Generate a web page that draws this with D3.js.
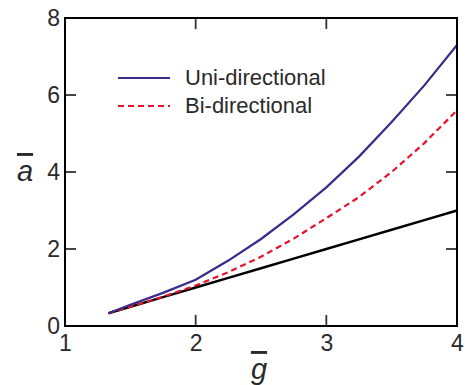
<!DOCTYPE html>
<html>
<head>
<meta charset="utf-8">
<script src="https://cdn.jsdelivr.net/npm/d3@7"></script>
<style>
  body { margin: 0; background: #fff; }
  text { font-family: "Liberation Sans", Arial, sans-serif; }
</style>
</head>
<body>
<div id="chart"></div>
<script>
// g values where the curves were sampled
const gValues = [1.333, 1.5, 1.75, 2, 2.25, 2.5, 2.75, 3, 3.25, 3.5, 3.75, 4];
const uniValues = [0.33, 0.55, 0.86, 1.2, 1.7, 2.26, 2.9, 3.6, 4.4, 5.3, 6.25, 7.3];
const biValues = [0.33, 0.5, 0.76, 1.05, 1.4, 1.8, 2.27, 2.8, 3.35, 4.0, 4.75, 5.6];
const baseValues = [0.333, 0.5, 0.75, 1, 1.25, 1.5, 1.75, 2, 2.25, 2.5, 2.75, 3];

const xTicks = [1, 2, 3, 4];
const yTicks = [0, 2, 4, 6, 8];
const legendLabels = ['Uni-directional', 'Bi-directional'];

const W = 468, H = 385;
const margin = { top: 18, right: 11, bottom: 59, left: 65 };
const iw = W - margin.left - margin.right;
const ih = H - margin.top - margin.bottom;

const svg = d3.select('#chart').append('svg')
  .attr('width', W)
  .attr('height', H);

const g = svg.append('g')
  .attr('transform', `translate(${margin.left},${margin.top})`);

const x = d3.scaleLinear().domain([1, 4]).range([0, iw]);
const y = d3.scaleLinear().domain([0, 8]).range([ih, 0]);

const line = (vals) => d3.line()
  .x((d, i) => x(gValues[i]))
  .y(d => y(d))(vals);

// curves
g.append('path')
  .attr('d', line(baseValues))
  .attr('fill', 'none')
  .attr('stroke', '#000')
  .attr('stroke-width', 2.5);

g.append('path')
  .attr('d', line(biValues))
  .attr('fill', 'none')
  .attr('stroke', '#e8112d')
  .attr('stroke-width', 2.2)
  .attr('stroke-dasharray', '6,4');

g.append('path')
  .attr('d', line(uniValues))
  .attr('fill', 'none')
  .attr('stroke', '#3a2a8c')
  .attr('stroke-width', 2.2);

// tick labels via d3 axes (no tick marks there)
const axStyle = (sel) => {
  sel.select('.domain').remove();
  sel.selectAll('.tick line').remove();
  sel.selectAll('text')
    .attr('fill', '#2a2a2a')
    .style('font-size', '23px')
    .style('font-family', '"Liberation Sans", Arial, sans-serif');
};

g.append('g')
  .attr('transform', `translate(0,${ih})`)
  .call(d3.axisBottom(x).tickValues(xTicks).tickFormat(d3.format('d'))
    .tickSize(0).tickPadding(9))
  .call(axStyle);

g.append('g')
  .call(d3.axisLeft(y).tickValues(yTicks).tickFormat(d3.format('d'))
    .tickSize(0).tickPadding(5))
  .call(axStyle);

// inward tick marks on all four sides
const tickLen = 11;
const ticks = g.append('g').attr('stroke', '#333').attr('stroke-width', 1.8);
const innerX = xTicks.slice(1, -1);
const innerY = yTicks.slice(1, -1);
ticks.selectAll('.tb').data(innerX).join('line')
  .attr('x1', d => x(d)).attr('x2', d => x(d))
  .attr('y1', ih).attr('y2', ih - tickLen);
ticks.selectAll('.tt').data(innerX).join('line')
  .attr('x1', d => x(d)).attr('x2', d => x(d))
  .attr('y1', 0).attr('y2', tickLen);
ticks.selectAll('.tl').data(innerY).join('line')
  .attr('x1', 0).attr('x2', tickLen)
  .attr('y1', d => y(d)).attr('y2', d => y(d));
ticks.selectAll('.tr').data(innerY).join('line')
  .attr('x1', iw).attr('x2', iw - tickLen)
  .attr('y1', d => y(d)).attr('y2', d => y(d));

g.append('rect')
  .attr('width', iw)
  .attr('height', ih)
  .attr('fill', 'none')
  .attr('stroke', '#000')
  .attr('stroke-width', 2);

// axis labels (overlined italic symbols)
svg.append('text')
  .attr('x', margin.left + x(2.5) - 2)
  .attr('y', H - 6)
  .attr('text-anchor', 'middle')
  .attr('fill', '#2a2a2a')
  .style('font-size', '29px')
  .style('font-style', 'italic')
  .style('text-decoration', 'overline')
  .text('g');

svg.append('text')
  .attr('x', 25)
  .attr('y', margin.top + y(4) + 9)
  .attr('text-anchor', 'middle')
  .attr('fill', '#2a2a2a')
  .style('font-size', '29px')
  .style('font-style', 'italic')
  .style('text-decoration', 'overline')
  .text('a');

// legend
const legend = svg.append('g').attr('transform', 'translate(118,78)');
const legendStyles = [
  { stroke: '#3a2a8c', dash: null },
  { stroke: '#e8112d', dash: '6,4' }
];
legendLabels.forEach((label, i) => {
  const row = legend.append('g').attr('transform', `translate(0,${i * 28})`);
  row.append('line')
    .attr('x1', 0).attr('x2', 52)
    .attr('stroke', legendStyles[i].stroke)
    .attr('stroke-width', 2.2)
    .attr('stroke-dasharray', legendStyles[i].dash);
  row.append('text')
    .attr('x', 67)
    .attr('y', 7)
    .attr('fill', '#2a2a2a')
    .style('font-size', '22px')
    .text(label);
});
</script>
</body>
</html>
